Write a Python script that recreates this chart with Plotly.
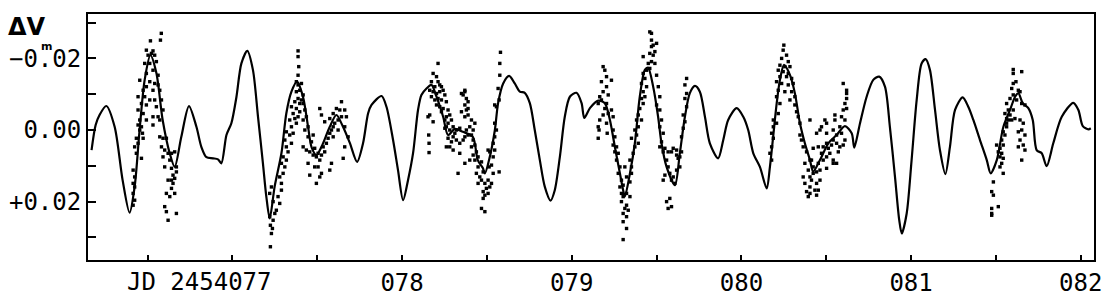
import plotly.graph_objects as go

# ---- model light curve (JD - 2454000, delta V in mmag) ----
model_t = [76.170, 76.194, 76.217, 76.257, 76.306, 76.353, 76.394, 76.424, 76.453, 76.483,
           76.517, 76.552, 76.589, 76.630, 76.660, 76.699, 76.744, 76.788, 76.817, 76.847,
           76.886, 76.915, 76.935, 76.965, 76.994, 77.024, 77.053, 77.088, 77.121, 77.151,
           77.180, 77.200, 77.220, 77.249, 77.289, 77.318, 77.348, 77.381, 77.416, 77.446,
           77.466, 77.495, 77.525, 77.574, 77.613, 77.652, 77.692, 77.735, 77.770, 77.800,
           77.820, 77.879, 77.908, 77.947, 77.976, 78.006, 78.035, 78.065, 78.094, 78.114,
           78.144, 78.173, 78.203, 78.242, 78.271, 78.311, 78.358, 78.417, 78.446, 78.476,
           78.488, 78.517, 78.547, 78.566, 78.596, 78.631, 78.664, 78.694, 78.723, 78.753,
           78.782, 78.812, 78.841, 78.875, 78.900, 78.930, 78.959, 78.989, 79.028, 79.058,
           79.074, 79.107, 79.156, 79.195, 79.225, 79.254, 79.284, 79.303, 79.313, 79.343,
           79.372, 79.401, 79.431, 79.450, 79.480, 79.509, 79.529, 79.559, 79.608, 79.637,
           79.667, 79.696, 79.726, 79.755, 79.785, 79.814, 79.863, 79.893, 79.922, 79.972,
           80.011, 80.040, 80.070, 80.109, 80.149, 80.168, 80.187, 80.208, 80.227, 80.251,
           80.286, 80.315, 80.345, 80.374, 80.404, 80.423, 80.463, 80.512, 80.561, 80.610,
           80.650, 80.665, 80.699, 80.738, 80.777, 80.812, 80.846, 80.875, 80.905, 80.930,
           80.945, 80.974, 81.003, 81.033, 81.062, 81.086, 81.111, 81.141, 81.170, 81.202,
           81.229, 81.259, 81.304, 81.337, 81.367, 81.406, 81.446, 81.469, 81.505, 81.544,
           81.583, 81.613, 81.632, 81.658, 81.691, 81.717, 81.740, 81.770, 81.799, 81.838,
           81.888, 81.956, 81.986, 82.012, 82.045, 82.059]
model_dv = [5.6, -1.4, -4.2, -6.7, -0.9, 14.0, 23.1, 15.8, 0.0, -14.0,
            -20.9, -15.9, -2.8, 6.4, 10.3, 1.9, -6.7, -0.9, 4.7, 7.6,
            7.9, 8.2, 9.3, 1.4, -1.9, -9.3, -18.6, -22.1, -16.8, -3.7,
            9.3, 18.6, 24.7, 15.8, 6.5, -4.7, -10.7, -13.5, -9.3, -0.9,
            4.7, 7.0, 4.7, -0.9, -4.2, -0.9, 3.6, 8.9, 3.7, -4.7,
            -7.0, -9.5, -6.5, 2.8, 11.2, 19.6, 14.0, 6.4, -5.6, -9.8,
            -11.6, -12.6, -9.3, -3.7, 1.4, -0.3, 0.5, 1.9, 8.4, 10.6,
            12.1, 7.5, 0.0, -7.5, -13.0, -15.1, -13.0, -10.7, -10.4, -7.5,
            0.0, 8.4, 15.8, 19.7, 16.8, 7.5, -3.7, -9.3, -10.4, -7.5,
            -3.4, -6.1, -8.2, -7.5, -2.8, 4.7, 12.1, 16.8, 18.6, 12.1,
            3.7, -9.3, -16.8, -17.4, -12.1, -3.7, 3.7, 10.3, 15.4, 6.5,
            -3.7, -10.3, -12.3, -10.7, -3.7, 3.7, 7.9, 2.8, -2.8, -6.1,
            -3.7, 0.0, 6.5, 10.3, 16.3, 10.3, 1.9, -7.5, -14.0, -18.2,
            -15.4, -10.3, -1.9, 3.7, 8.4, 11.6, 8.4, 3.7, 1.4, -1.1,
            0.9, 4.9, -1.9, -9.3, -14.0, -14.9, -12.1, -0.9, 13.0, 25.1,
            28.9, 23.3, 8.4, -8.4, -18.6, -19.8, -16.8, -5.6, 5.6, 12.3,
            4.7, -5.6, -9.1, -6.5, -2.8, 2.8, 8.4, 12.1, 8.4, -0.9,
            -5.6, -9.3, -10.3, -7.5, -6.1, -2.8, 5.6, 6.5, 10.1, 3.7,
            -3.7, -7.6, -5.6, -1.1, -0.2, -0.5]

# ---- observations, one list per night: (JD - 2454000, delta V in mmag) ----
night1 = [(76.581, -27.0), (76.576, -25.1), (76.517, -24.9), (76.493, -22.3), (76.532, -22.1),
          (76.523, -21.4), (76.503, -20.9), (76.542, -20.9), (76.483, -18.6), (76.513, -18.6),
          (76.552, -19.1), (76.532, -16.7), (76.493, -15.8), (76.562, -15.3), (76.454, -13.9),
          (76.513, -13.5), (76.542, -13.0), (76.562, -12.6), (76.493, -12.1), (76.474, -11.1),
          (76.532, -11.1), (76.572, -11.1), (76.444, -9.3), (76.483, -9.3), (76.513, -8.4),
          (76.542, -8.4), (76.582, -8.4), (76.464, -7.4), (76.493, -7.0), (76.552, -6.5),
          (76.591, -5.6), (76.444, -5.6), (76.474, -4.6), (76.532, -3.7), (76.562, -3.7),
          (76.454, -2.8), (76.493, -2.8), (76.572, -2.8), (76.444, -1.4), (76.464, -0.9),
          (76.532, -1.4), (76.454, 0.0), (76.470, 0.9), (76.434, 2.3), (76.474, 2.3),
          (76.572, 1.9), (76.591, 2.3), (76.611, 2.3), (76.444, 3.7), (76.424, 4.7),
          (76.434, 6.5), (76.464, 7.9), (76.582, 4.7), (76.601, 5.6), (76.621, 6.5),
          (76.641, 6.5), (76.660, 6.1), (76.591, 7.5), (76.631, 8.4), (76.601, 10.3),
          (76.641, 10.7), (76.670, 10.3), (76.670, 11.7), (76.650, 12.6), (76.660, 13.5),
          (76.621, 14.0), (76.641, 14.0), (76.415, 11.2), (76.424, 13.1), (76.415, 14.9),
          (76.424, 15.9), (76.415, 17.7), (76.424, 19.6), (76.415, 21.0), (76.611, 17.7),
          (76.631, 18.6), (76.601, 21.4), (76.611, 22.8), (76.670, 23.3), (76.621, 25.2),
          (76.641, 16.3), (76.660, 17.7), (76.650, 14.9)]

night2 = [(77.224, 32.6), (77.230, 28.9), (77.236, 27.5), (77.224, 26.6), (77.240, 25.2),
          (77.220, 24.2), (77.250, 23.3), (77.259, 22.4), (77.279, 20.5), (77.240, 20.0),
          (77.269, 18.6), (77.289, 16.8), (77.220, 17.7), (77.230, 15.9), (77.289, 14.9),
          (77.279, 13.1), (77.299, 12.1), (77.309, 10.3), (77.289, 9.3), (77.318, 8.4),
          (77.299, 7.5), (77.328, 6.1), (77.318, 4.7), (77.348, 3.7), (77.309, 2.8),
          (77.338, 1.4), (77.358, 0.9), (77.318, 0.5), (77.348, -0.9), (77.377, -1.9),
          (77.338, -2.8), (77.368, -3.2), (77.387, -3.7), (77.358, -4.6), (77.397, -5.1),
          (77.377, -6.0), (77.348, -6.5), (77.397, -7.4), (77.368, -7.9), (77.387, -8.8),
          (77.407, -8.4), (77.417, -9.8), (77.377, -10.7), (77.397, -11.1), (77.387, -12.6),
          (77.407, -13.0), (77.377, -13.5), (77.387, -15.3), (77.391, -17.7), (77.387, -20.5),
          (77.387, -22.1), (77.417, -7.4), (77.427, -5.6), (77.436, -3.7), (77.417, -2.8),
          (77.446, -0.9), (77.427, 0.0), (77.446, 1.9), (77.476, 1.4), (77.466, 3.3),
          (77.417, 4.7), (77.436, 5.6), (77.485, 5.1), (77.456, 6.1), (77.476, 7.0),
          (77.505, 6.5), (77.495, 7.5), (77.525, 7.0), (77.515, 8.4), (77.544, 6.1),
          (77.535, 4.7), (77.554, 3.7), (77.564, 2.3), (77.574, 0.9), (77.584, 0.0),
          (77.594, -0.9), (77.603, -1.9), (77.623, -2.8), (77.643, -3.7), (77.633, -5.6),
          (77.613, -6.0), (77.594, -4.6), (77.574, -3.2), (77.544, -2.3), (77.525, -4.2),
          (77.515, -6.0), (77.643, -7.9), (77.662, -5.6), (77.672, -3.7), (77.662, -0.9),
          (77.682, 1.9), (77.662, 4.7), (77.653, 7.9), (77.574, 11.2), (77.525, 12.1),
          (77.495, 14.9), (77.456, 12.6), (77.485, 10.3), (77.446, 9.3), (77.505, 10.3),
          (77.515, 13.1), (77.584, 9.3), (77.623, 0.0), (77.594, 1.9)]

night3 = [(78.212, -18.6), (78.183, -15.8), (78.203, -14.9), (78.173, -13.5), (78.212, -13.5),
          (78.222, -12.6), (78.193, -12.1), (78.232, -12.1), (78.163, -11.1), (78.183, -10.7),
          (78.203, -10.2), (78.222, -10.7), (78.242, -11.1), (78.252, -9.8), (78.173, -9.3),
          (78.212, -8.8), (78.232, -8.4), (78.261, -7.9), (78.193, -8.4), (78.203, -7.0),
          (78.222, -6.5), (78.242, -6.0), (78.163, -4.2), (78.153, -3.7), (78.183, -2.3),
          (78.232, -5.1), (78.271, -5.6), (78.261, -3.7), (78.281, -4.2), (78.252, -2.8),
          (78.271, -1.9), (78.291, -2.8), (78.301, -0.9), (78.261, -0.9), (78.281, 0.0),
          (78.252, -0.5), (78.320, 0.0), (78.311, 0.9), (78.340, -0.5), (78.301, 1.9),
          (78.271, 2.3), (78.291, 3.3), (78.320, 2.8), (78.281, 4.7), (78.261, 4.7),
          (78.301, 5.6), (78.340, 3.7), (78.360, 2.8), (78.370, 1.9), (78.389, 1.4),
          (78.409, 1.4), (78.379, 0.0), (78.399, -0.9), (78.419, 0.0), (78.429, -1.9),
          (78.409, -2.8), (78.370, -3.7), (78.389, -4.2), (78.350, -5.1), (78.379, -5.6),
          (78.370, -7.0), (78.389, -7.9), (78.379, -8.8), (78.360, -9.8), (78.370, -10.7),
          (78.350, -10.2), (78.389, -6.0), (78.370, -11.1), (78.419, 2.8), (78.429, 4.2),
          (78.409, 4.7), (78.438, 6.1), (78.419, 7.0), (78.448, 7.5), (78.429, 8.4),
          (78.399, 8.4), (78.468, 8.9), (78.448, 10.3), (78.438, 12.1), (78.458, 13.1),
          (78.478, 11.7), (78.468, 14.0), (78.448, 14.9), (78.488, 14.9), (78.507, 14.0),
          (78.527, 14.9), (78.497, 16.3), (78.478, 17.2), (78.488, 18.2), (78.507, 17.7),
          (78.517, 15.9), (78.478, 19.1), (78.468, 21.9), (78.488, 22.8), (78.537, 12.1),
          (78.527, 9.8), (78.537, 7.5), (78.517, 6.1), (78.546, 5.6), (78.537, 3.7),
          (78.546, 1.9), (78.556, 0.0), (78.546, -1.9), (78.556, -6.5), (78.546, -7.0),
          (78.572, -8.4), (78.566, -11.6), (78.576, -15.3), (78.576, -18.6), (78.580, -21.7),
          (78.507, 5.6), (78.330, 12.1), (78.370, 9.3), (78.340, 6.5), (78.159, 3.7),
          (78.159, 6.3), (78.157, 1.4), (78.572, 11.7), (78.513, 10.3)]

night4 = [(79.185, -17.7), (79.195, -16.7), (79.205, -14.9), (79.175, -13.5), (79.205, -12.1),
          (79.185, -10.7), (79.165, -9.3), (79.215, -9.8), (79.175, -8.4), (79.205, -7.4),
          (79.156, -7.4), (79.195, -6.0), (79.215, -4.6), (79.185, -4.2), (79.165, -2.8),
          (79.156, -0.9), (79.161, 0.0), (79.156, 2.3), (79.209, 0.9), (79.205, -1.9),
          (79.234, -13.9), (79.234, -5.6), (79.244, -3.7), (79.244, 0.0), (79.254, 1.9),
          (79.244, 4.2), (79.264, 4.7), (79.254, 6.1), (79.274, 6.5), (79.264, 8.4),
          (79.284, 10.3), (79.313, 10.3), (79.274, 12.1), (79.293, 14.0), (79.323, 13.1),
          (79.284, 15.9), (79.303, 15.4), (79.343, 14.5), (79.293, 17.7), (79.323, 17.7),
          (79.303, 18.6), (79.343, 18.6), (79.293, 20.0), (79.323, 21.0), (79.313, 21.9),
          (79.333, 22.4), (79.303, 23.3), (79.323, 24.2), (79.303, 25.6), (79.323, 27.5),
          (79.303, 30.6), (79.352, 12.1), (79.352, 10.3), (79.343, 8.4), (79.362, 6.5),
          (79.372, 4.7), (79.392, 3.7), (79.352, 2.3), (79.382, 1.4), (79.372, 0.0),
          (79.392, -0.9), (79.382, -2.8), (79.411, -2.8), (79.392, -4.2), (79.401, -6.0),
          (79.421, -7.4), (79.411, -8.8), (79.431, -9.3), (79.421, -10.7), (79.441, -12.1),
          (79.411, -13.0), (79.431, -14.4), (79.421, -15.8), (79.441, -16.7), (79.460, -17.2),
          (79.470, -19.1), (79.451, -18.6), (79.490, -18.6), (79.480, -20.9), (79.421, -20.5),
          (79.460, -21.4), (79.490, -21.9), (79.470, -23.3), (79.480, -23.7), (79.500, -24.2),
          (79.470, -25.1), (79.470, -27.0), (79.460, -27.4), (79.500, -15.3), (79.510, -12.1),
          (79.519, -9.3), (79.500, -7.0), (79.519, -5.6), (79.529, -2.8), (79.519, -0.9),
          (79.539, 0.9), (79.529, 3.3), (79.519, 4.7), (79.549, 5.1), (79.539, 6.1),
          (79.568, 6.1), (79.559, 8.4), (79.568, 10.3), (79.578, 12.1), (79.549, 12.6),
          (79.539, 14.0), (79.588, 14.0), (79.608, 14.9), (79.598, 13.1), (79.618, 11.2),
          (79.637, 10.3), (79.627, 7.9), (79.618, 5.6), (79.598, 5.1), (79.588, 6.1),
          (79.618, 7.0), (79.637, 7.5), (79.647, 6.1), (79.647, 1.9), (79.657, -0.5),
          (79.667, -2.3), (79.657, -4.2), (79.677, -6.5), (79.667, -8.8), (79.677, -10.2),
          (79.667, -12.6), (79.677, -14.4), (79.578, 19.1), (79.559, 20.0), (79.568, 21.9),
          (79.588, 21.4)]

night5 = [(80.250, -23.7), (80.246, -22.3), (80.266, -20.9), (80.237, -20.0), (80.276, -19.1),
          (80.227, -18.1), (80.256, -17.7), (80.286, -17.7), (80.217, -16.7), (80.246, -16.3),
          (80.276, -15.8), (80.227, -14.9), (80.266, -14.9), (80.296, -14.4), (80.207, -13.5),
          (80.237, -13.0), (80.276, -12.6), (80.305, -13.0), (80.217, -11.1), (80.256, -10.7),
          (80.296, -10.7), (80.315, -9.3), (80.207, -9.3), (80.227, -7.4), (80.286, -8.4),
          (80.315, -7.0), (80.325, -5.1), (80.217, -4.6), (80.335, -3.7), (80.188, -2.8),
          (80.207, -1.9), (80.188, -0.9), (80.345, -1.9), (80.178, 0.9), (80.188, 2.3),
          (80.178, 4.7), (80.168, 6.5), (80.178, 8.4), (80.345, 1.4), (80.354, 2.8),
          (80.364, 4.7), (80.384, 6.1), (80.404, -2.8), (80.404, 8.4), (80.374, 9.3),
          (80.413, 8.4), (80.423, 10.3), (80.394, 11.2), (80.423, 12.1), (80.443, 11.7),
          (80.404, 13.1), (80.364, 13.1), (80.413, 14.0), (80.374, 14.9), (80.404, 15.9),
          (80.443, 14.9), (80.384, 17.2), (80.404, 17.7), (80.433, 16.8), (80.453, 16.8),
          (80.394, 18.6), (80.443, 18.2), (80.463, 14.0), (80.463, 11.2), (80.453, 9.3),
          (80.482, 8.4), (80.472, 6.5), (80.502, 7.5), (80.453, 4.7), (80.482, 4.7),
          (80.512, 5.1), (80.502, 3.7), (80.531, 4.2), (80.541, 2.8), (80.561, 3.7),
          (80.521, 6.5), (80.541, 9.3), (80.561, 9.3), (80.502, 10.7), (80.541, 8.4),
          (80.571, 6.1), (80.580, 4.7), (80.600, 4.2), (80.610, 2.8), (80.590, 0.9),
          (80.561, 1.4), (80.502, 0.9), (80.463, 0.0), (80.472, -0.9), (80.502, -1.9),
          (80.541, 0.0), (80.551, -2.8), (80.580, -0.9), (80.590, -3.7), (80.610, -2.8),
          (80.600, -5.6), (80.620, -6.0), (80.610, -7.4), (80.620, -8.8), (80.620, -10.2),
          (80.620, -11.1), (80.600, -13.0), (80.551, -4.2), (80.492, -2.8), (80.443, 0.9),
          (80.423, 5.1)]

night6 = [(81.602, -16.9), (81.652, -16.3), (81.618, -13.5), (81.593, -11.6), (81.632, -11.1),
          (81.642, -10.7), (81.602, -9.8), (81.583, -8.8), (81.622, -8.4), (81.652, -7.4),
          (81.671, -7.0), (81.563, -7.4), (81.573, -5.6), (81.602, -5.6), (81.553, -4.6),
          (81.583, -4.2), (81.563, -3.2), (81.593, -2.8), (81.612, -3.2), (81.642, -2.8),
          (81.661, -1.9), (81.652, 0.0), (81.671, 1.4), (81.632, 0.5), (81.642, 2.8),
          (81.661, 4.2), (81.632, 4.7), (81.671, 5.6), (81.652, 8.4), (81.563, -0.9),
          (81.543, 0.5), (81.553, 1.4), (81.534, 2.8), (81.504, 4.2), (81.524, 5.1),
          (81.543, 4.2), (81.514, 6.1), (81.534, 6.5), (81.524, 7.5), (81.543, 7.9),
          (81.534, 9.3), (81.524, 10.3), (81.543, 12.1), (81.485, 14.5), (81.475, 17.2),
          (81.485, 18.2), (81.514, 21.4), (81.475, 21.9), (81.475, 23.3), (81.475, 23.8),
          (81.573, -2.8), (81.563, -1.9), (81.602, -13.0), (81.602, -15.8)]

# ---- axes ----
x_range = [76.149, 82.078]
y_range = [0.0363, -0.0324]          # magnitudes, brighter upward
x_tickvals = [76.5, 77, 77.5, 78, 78.5, 79, 79.5, 80, 80.5, 81, 81.5, 82]
x_ticktext = ['', '', '', '078', '', '079', '', '080', '', '081', '', '082']
y_tickvals = [-0.03, -0.02, -0.01, 0.0, 0.01, 0.02, 0.03]
y_ticktext = ['', '\u22120.02', '', '0.00', '', '+0.02', '']

obs = night1 + night2 + night3 + night4 + night5 + night6
obs_t = [p[0] for p in obs]
obs_dv = [p[1] / 1000.0 for p in obs]
model_dv_mag = [v / 1000.0 for v in model_dv]

MONO = "DejaVu Sans Mono"

fig = go.Figure()
fig.add_trace(go.Scatter(x=model_t, y=model_dv_mag, mode="lines",
                         line=dict(color="black", width=2.2, shape="spline", smoothing=0.8),
                         hoverinfo="skip", showlegend=False))
fig.add_trace(go.Scatter(x=obs_t, y=obs_dv, mode="markers",
                         marker=dict(symbol="square", size=3.4, color="black", line=dict(width=0)),
                         showlegend=False))

fig.update_layout(
    width=1120, height=300,
    margin=dict(l=88, r=26, t=14, b=40, autoexpand=False),
    paper_bgcolor="white", plot_bgcolor="white",
    font=dict(family=MONO, size=24, color="black"),
)
fig.update_xaxes(range=x_range, showgrid=False, zeroline=False, automargin=False,
                 showline=True, mirror=True, linecolor="black", linewidth=2,
                 ticks="inside", ticklen=5, tickwidth=1.5, tickcolor="black",
                 tickvals=x_tickvals, ticktext=x_ticktext,
                 tickfont=dict(family=MONO, size=24, color="black"))
fig.update_yaxes(range=y_range, showgrid=False, zeroline=False, automargin=False,
                 showline=True, mirror=True, linecolor="black", linewidth=2,
                 ticks="inside", ticklen=8, tickwidth=1.5, tickcolor="black",
                 tickvals=y_tickvals, ticktext=y_ticktext,
                 tickfont=dict(family=MONO, size=24, color="black"))

# x-axis label at the first whole day
fig.add_annotation(x=77, y=0, xref="x", yref="paper", text="JD 2454077",
                   showarrow=False, xanchor="right", yanchor="top", xshift=42, yshift=-6,
                   font=dict(family=MONO, size=24, color="black"))
# magnitude superscript over the decimal point
fig.add_annotation(x=0, y=-0.02, xref="paper", yref="y", text="<b>m</b>",
                   showarrow=False, xanchor="center", yanchor="middle", xshift=-42, yshift=12,
                   font=dict(family="DejaVu Sans", size=11, color="black"))
# axis title
fig.add_annotation(x=0, y=1, xref="paper", yref="paper", text="<b>\u0394V</b>",
                   showarrow=False, xanchor="left", yanchor="top", xshift=-82, yshift=3,
                   font=dict(family="DejaVu Sans", size=24, color="black"))

fig.write_html("out.html")
